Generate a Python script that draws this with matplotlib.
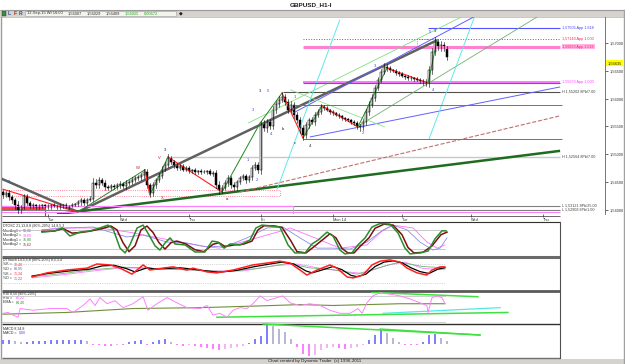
import matplotlib
matplotlib.use('Agg')
import matplotlib.pyplot as plt
from matplotlib.patches import Rectangle
from matplotlib.ticker import FuncFormatter
import matplotlib.transforms as mtrans

plt.rcParams['font.family'] = ['Liberation Sans', 'DejaVu Sans']

W, H = 625, 364

# ---- GBPUSD H1 bars ----
firstOpen = 1.5432
closes = [1.5427, 1.5431, 1.5423, 1.5418, 1.5409, 1.5400, 1.5405, 1.5425, 1.5413, 1.5407,
          1.5409, 1.5405, 1.5407, 1.5409, 1.5407, 1.5405, 1.5409, 1.5407, 1.5405, 1.5407,
          1.5409, 1.5405, 1.5407, 1.5409, 1.5411, 1.5414, 1.5418, 1.5413, 1.5418, 1.5420,
          1.5449, 1.5445, 1.5454, 1.5449, 1.5441, 1.5440, 1.5443, 1.5441, 1.5445, 1.5447,
          1.5443, 1.5449, 1.5450, 1.5454, 1.5457, 1.5459, 1.5463, 1.5468, 1.5445, 1.5431,
          1.5445, 1.5454, 1.5461, 1.5472, 1.5481, 1.5493, 1.5486, 1.5481, 1.5475, 1.5479,
          1.5472, 1.5475, 1.5470, 1.5472, 1.5468, 1.5470, 1.5468, 1.5468, 1.5470, 1.5465,
          1.5466, 1.5445, 1.5436, 1.5440, 1.5449, 1.5457, 1.5445, 1.5441, 1.5450, 1.5457,
          1.5461, 1.5454, 1.5459, 1.5475, 1.5481, 1.5472, 1.5554, 1.5547, 1.5558, 1.5551,
          1.5580, 1.5590, 1.5598, 1.5603, 1.5594, 1.5580, 1.5589, 1.5571, 1.5562, 1.5547,
          1.5535, 1.5553, 1.5562, 1.5558, 1.5571, 1.5576, 1.5585, 1.5583, 1.5580, 1.5576,
          1.5574, 1.5571, 1.5569, 1.5565, 1.5563, 1.5562, 1.5558, 1.5556, 1.5551, 1.5549,
          1.5558, 1.5576, 1.5589, 1.5601, 1.5619, 1.5634, 1.5648, 1.5657, 1.5655, 1.5651,
          1.5650, 1.5646, 1.5644, 1.5641, 1.5639, 1.5637, 1.5637, 1.5635, 1.5634, 1.5632,
          1.5630, 1.5628, 1.5651, 1.5684, 1.5702, 1.5693, 1.5696, 1.5691, 1.5675]
# wick lengths in pips above / below the body
wickUp = [4, 3, 5, 3, 4, 6, 3, 4, 3, 2, 3, 2, 3, 2, 2, 3, 2, 3, 2, 3,
          2, 3, 2, 3, 2, 4, 3, 3, 4, 5, 8, 6, 5, 4, 4, 3, 4, 3, 3, 4,
          3, 4, 4, 5, 4, 3, 4, 6, 5, 4, 5, 4, 5, 6, 5, 8, 4, 3, 4, 3,
          3, 4, 3, 2, 3, 2, 3, 3, 2, 3, 4, 5, 6, 5, 5, 6, 4, 5, 4, 4,
          3, 4, 4, 6, 5, 5, 6, 8, 6, 5, 6, 5, 6, 8, 6, 5, 6, 5, 4, 5,
          6, 5, 4, 5, 4, 6, 5, 3, 3, 2, 3, 2, 3, 2, 2, 3, 2, 3, 3, 4,
          5, 6, 6, 7, 6, 5, 6, 7, 5, 4, 3, 4, 3, 3, 2, 3, 3, 2, 3, 3,
          4, 5, 8, 7, 9, 6, 7, 5, 4]
wickDn = [5, 4, 6, 5, 7, 8, 5, 4, 4, 3, 3, 4, 3, 3, 2, 3, 3, 2, 3, 3,
          3, 2, 3, 2, 3, 4, 5, 4, 4, 3, 4, 5, 6, 5, 6, 4, 5, 4, 3, 5,
          4, 5, 4, 3, 4, 4, 5, 5, 6, 8, 6, 5, 4, 4, 3, 4, 4, 5, 4, 3,
          3, 3, 4, 3, 3, 4, 3, 2, 3, 3, 4, 6, 8, 6, 5, 6, 6, 5, 5, 4,
          4, 5, 4, 5, 4, 6, 8, 6, 7, 6, 5, 6, 5, 4, 5, 6, 5, 6, 6, 8,
          10, 6, 5, 4, 5, 4, 4, 3, 3, 3, 3, 3, 3, 3, 3, 3, 4, 4, 5, 8,
          6, 5, 5, 4, 5, 4, 4, 4, 5, 4, 3, 3, 3, 3, 4, 3, 3, 3, 3, 4,
          5, 6, 8, 6, 5, 5, 7, 6, 5]
lastPrice = 1.56635

dayTicks = [15, 39, 62, 86, 110, 133, 156, 180]
dayLabels = ['Tue', 'Wed', 'Thu', 'Fri', 'Mon 14', 'Tue', 'Wed', 'Thu']
priceTicks = [1.540, 1.545, 1.550, 1.555, 1.560, 1.565, 1.570]

# horizontal levels with their tags
levelPrices = [1.5727, 1.5707, 1.5693, 1.5630, 1.5612, 1.5495, 1.5407, 1.5400]
levelStart = [141.7, 100, 100, 100, 93.3, 55, -1, -1]
levelLabels = ['1,57505 App 1.618', '1,57140 App 1.000', '1,56890 App 1.618', '1,55573 App 1.000',
               'H 1,55202 8Pb/7.00', 'H 1,52564 8Pb/7.00', 'L 1,53121 8Pb/25.00', 'L 1,52908 8Pb/1.00']
levelColors = ['#5050ff', '#ff2050', '#ff80d0', '#ff60ff', '#505050', '#c8c8c8', '#808080', '#808080']
levelText = ['#4040ff', '#ff2050', '#ff2050', '#ff40ff', '#404040', '#404040', '#404040', '#404040']
levelBack = ['none', 'none', '#ffb4e6', 'none', 'none', 'none', 'none', 'none']
levelWidth = [0.8, 0.7, 2.2, 1.2, 0.8, 1.0, 0.8, 0.8]
levelStyle = ['-', ':', '-', '-', '-', '-', '-', '-']

# trend lines (bar, price)
trendLines = [
    ([-1, 25, 144.7], [1.5457, 1.5396, 1.5705], '#606060', 1.8, '-'),
    ([18, 185.7], [1.5392, 1.5506], '#1f6b1f', 1.8, '-'),
    ([79, 185.7], [1.5432, 1.5569], '#c07070', 0.8, '--'),
    ([102.3, 185.7], [1.5531, 1.5621], '#6060ff', 0.7, '-'),
    ([96.7, 158], [1.5574, 1.5750], '#6060ff', 0.7, '-'),
    ([81.7, 154], [1.5556, 1.5750], '#80e080', 0.6, '-'),
    ([117.3, 179], [1.5547, 1.5750], '#70b070', 0.6, '-'),
    ([95.7, 127.3], [1.5616, 1.5549], '#90e090', 0.6, '-'),
    ([91.3, 112.3], [1.5436, 1.5742], '#60e8e8', 0.7, '-'),
    ([142, 157.3], [1.5527, 1.5749], '#60e8e8', 0.7, '-'),
    ([96.7, 186.3], [1.5589, 1.5589], '#6060ff', 0.7, '-'),
    ([100, 186.3], [1.5527, 1.5527], '#6060ff', 0.7, '-'),
    ([100, 185.7], [1.5628, 1.5628], '#8040ff', 0.8, '-'),
    ([-1, 185.7], [1.5396, 1.5396], '#ff80ff', 0.8, '-'),
    ([-1, 96.7, 96.7], [1.5407, 1.5407, 1.5393], '#ff80ff', 0.8, '-'),
]
zigRed = [([0, 24.7], [1.5437, 1.5396]), ([47.3, 49], [1.5472, 1.5427]),
          ([55, 73], [1.5495, 1.5432]), ([93, 100], [1.5610, 1.5529]),
          ([106.3, 118.3], [1.5587, 1.5549]), ([128, 141.7], [1.5655, 1.5628])]
zigGreen = [([25, 47.3], [1.5396, 1.5472]), ([49, 55], [1.5427, 1.5495]),
            ([73, 85.7], [1.5432, 1.5556]), ([85.7, 93], [1.5556, 1.5610]),
            ([100, 106.3], [1.5529, 1.5587]), ([118.3, 128], [1.5549, 1.5655]),
            ([141.7, 144.7], [1.5628, 1.5705])]

waveX = [2, 45, 52, 54, 53, 74.7, 81.7, 84.7, 83.3, 89.3, 85.7, 88.3, 93.3, 97.3,
         102.3, 97.3, 120, 124, 143.3, 142.3, 144]
waveY = [1.5451, 1.5475, 1.5493, 1.5508, 1.5421, 1.5419, 1.5490, 1.5454, 1.5580, 1.5536,
         1.5614, 1.5614, 1.5545, 1.5520, 1.5515, 1.5603, 1.5538, 1.5659, 1.5615, 1.5720, 1.5722]
waveText = ['a', 'W', 'V', '3', 'X', 'a', '1', '2', '3', '4', '3', '5', 'b', 'c',
            '4', '1', '2', '3', '4', '5', '3']
waveColor = ['#4040ff', '#c02020', '#c02020', '#202020', '#c02020', '#202020', '#4040ff',
             '#4040ff', '#4040ff', '#4040ff', '#202020', '#4040ff', '#202020', '#202020',
             '#202020', '#4040ff', '#4040ff', '#4040ff', '#4040ff', '#4040ff', '#202020']

# ---- DTOSC ----
oscBarsG = [13, 17.3, 19.7, 22.3, 25.7, 29, 32.3, 35, 36.7, 39, 40.7, 42.3, 44.7, 46.7, 48.3,
            50.7, 52.3, 54, 55.7, 57.3, 60.7, 64, 67.3, 69.7, 71.7, 73.7, 75.7, 79, 82.3, 84.3,
            86.3, 89.7, 92.3, 95, 97.3, 100.7, 103, 105, 108, 110, 112.3, 114, 116.3, 118.3,
            120.7, 123, 125.7, 129, 131.7, 134, 135.7, 139, 141.7, 144, 146.3, 147.7]
oscG = [73, 77, 86, 61, 73, 77, 86, 95, 83, 23, 8, 33, 86, 95, 70, 30, 17, 39, 55, 36,
        33, 11, 11, 45, 42, 23, 36, 33, 48, 86, 95, 92, 89, 33, 8, 8, 36, 48, 73, 61,
        17, 5, 8, 33, 55, 89, 100, 98, 70, 23, 5, 8, 14, 52, 77, 77]
oscBarsR = [13, 17, 20, 23, 26, 29, 33, 36, 38, 40, 42, 44, 46, 48, 50, 52, 54, 56, 58, 61,
            64, 67, 70, 72, 74, 77, 80, 83, 85, 87, 90, 93, 96, 98, 101, 104, 106, 109, 111,
            113, 115, 117, 119, 122, 124, 127, 130, 133, 135, 137, 140, 143, 146, 148]
oscR = [75, 76, 84, 70, 72, 76, 84, 92, 80, 40, 12, 30, 80, 92, 72, 40, 20, 40, 45, 36,
        18, 12, 35, 40, 28, 33, 35, 45, 80, 93, 93, 88, 45, 12, 8, 30, 45, 68, 55,
        22, 8, 8, 28, 55, 85, 98, 95, 65, 25, 8, 10, 30, 65, 73]
oscBarsB = [13, 21.3, 30, 35.7, 41.3, 46.7, 54.7, 61.3, 68, 74.7, 81.3, 88, 93.3, 99, 104.7,
            110, 115.7, 121.3, 125.7, 130, 134.7, 139, 143.3, 145.7, 148]
oscB = [80, 86, 89, 73, 58, 64, 42, 39, 27, 30, 55, 86, 89, 55, 23, 23, 20, 42, 73, 95,
        80, 42, 17, 23, 55]
oscBarsM = [13, 19, 32, 42, 52, 65.7, 72, 82, 94, 95.7, 104, 112.3, 121.3, 126.7, 130,
            136.7, 141.3, 144.7, 147.3]
oscM = [80, 86, 86, 73, 55, 30, 23, 48, 80, 86, 55, 23, 33, 80, 95, 86, 42, 23, 33]

# ---- DTStoch ----
stBarsR = [9.7, 14.7, 21.3, 28, 31.3, 35.7, 39, 43, 46.7, 49, 53.3, 56.7, 61.3, 63.3, 68,
           71.3, 76.7, 83.3, 88, 92.3, 95.7, 99, 101.3, 104.7, 109, 111.3, 114.7, 116.7,
           120, 123, 125.7, 129, 132.3, 134.7, 138, 141.3, 143, 145.7, 147.3]
stR = [39, 52, 61, 67, 80, 77, 67, 48, 77, 61, 67, 71, 61, 67, 55, 52, 61, 77, 83, 89,
       83, 61, 45, 61, 77, 67, 39, 36, 45, 77, 89, 93, 86, 67, 52, 45, 61, 71, 71]
stBarsK = [9.7, 15, 22, 29, 33, 37, 41, 44, 48, 51, 55, 59, 63, 68, 72, 78, 84, 89, 93, 97,
           101, 103, 106, 110, 113, 116, 118, 121, 124, 127, 130, 133, 136, 139, 142, 145, 147.3]
stK = [42, 50, 58, 64, 74, 76, 66, 55, 68, 64, 66, 68, 64, 58, 54, 60, 72, 80, 86, 80,
       58, 52, 60, 72, 62, 44, 40, 48, 72, 86, 90, 84, 68, 56, 50, 64, 68]
stBarsG = [9.7, 20, 30, 40, 46, 55, 65, 75, 85, 95, 102, 110, 118, 126, 132, 140, 147.3]
stG = [40, 50, 62, 70, 68, 64, 60, 56, 66, 82, 68, 62, 48, 70, 86, 72, 68]
stBarsM = [9.7, 20, 30, 40, 50, 60, 70, 80, 90, 98, 106, 114, 120, 128, 134, 140, 147.3]
stM = [36, 46, 58, 68, 66, 62, 58, 58, 74, 80, 66, 56, 50, 76, 86, 66, 62]

# ---- RSI ----
rsiBars = [0, 1.7, 3.3, 5, 5.7, 10, 15.7, 21.3, 23.3, 26.7, 29, 30.7, 32.3, 34.7, 37.3,
           40, 43.3, 46.7, 48.3, 51.3, 54.7, 58, 61.3, 65.7, 68, 70, 72.3, 74.7, 76.7, 79,
           81.3, 83.3, 85.7, 88, 91.3, 93.3, 95.7, 99, 102.3, 105.7, 109, 112.3, 115.7,
           118.3, 119.7, 121.3, 123.3, 125.7, 129, 132.3, 135.7, 139, 141.3, 141.7, 143,
           144.7, 146.3, 147.3]
rsi = [40, 42, 36, 31, 51, 47, 51, 51, 42, 58, 73, 58, 76, 62, 69, 53, 62, 78, 47, 62,
       76, 64, 53, 51, 58, 36, 40, 31, 47, 53, 51, 62, 80, 69, 76, 80, 64, 58, 62, 58,
       47, 40, 40, 51, 40, 64, 80, 87, 84, 80, 73, 64, 58, 42, 76, 80, 76, 62]
emaBars = [0, 21.3, 43.3, 65.7, 85.7, 99, 110, 121.3, 132.3, 143.3, 147.3]
ema = [38, 42, 51, 53, 57, 60, 58, 60, 62, 62, 62]

# ---- MACD histogram (every second bar) ----
macdHist = [4, 4, 3, 2, 2, 3, 3, 3, 4, 4, 4, 4, 4, 4, 3, -1, -1, -2, -2, -1, -1, 2, 3, 4,
            -1, 2, 4, 5, 2, -1, -2, -1, -2, -3, -4, -5, -6, -5, -4, -3, -2, 1, 5, 8, 21,
            18, 15, 12, 5, -3, -10, -12, -11, -6, -4, -3, -4, -5, -4, -3, -1, 4, 9, 14,
            11, 6, 2, -1, -1, -1, 2, 9, 10, 6, 3]

TXT = 2.6  # tiny legend font


def price_fmt(v, pos=None):
    return f'{v:.5f}'.replace('.', ',')


fig = plt.figure(figsize=(W / 100, H / 100), dpi=100)

# background / window chrome in pixel coordinates
bg = fig.add_axes([0, 0, 1, 1])
bg.set_xlim(0, W)
bg.set_ylim(H, 0)
bg.axis('off')


def rect(x0, y0, x1, y1, **kw):
    bg.add_patch(Rectangle((x0, y0), x1 - x0, y1 - y0, **kw))


def hline(y, x0, x1, **kw):
    bg.plot([x0, x1], [y, y], solid_capstyle='butt', **kw)


def legend_row(y, name, value, color, xv):
    bg.text(3, y, name, fontsize=TXT, va='center', color='#303030')
    bg.text(xv, y, value, fontsize=TXT, va='center', color=color)


rect(0, 0, W, H, facecolor='white', edgecolor='none')
rect(0, 9.5, W, 17, facecolor='#d6d3ce', edgecolor='none')
hline(9.5, 0, W, color='#9a9a9a', lw=0.8)
hline(17, 0, W, color='#b0b0b0', lw=0.5)
rect(0, 358.5, W, H, facecolor='#d6d3ce', edgecolor='none')
bg.text(311, 4.8, 'GBPUSD_H1-I', fontsize=4.6, ha='center', va='center', color='#202020',
        fontweight='bold')
rect(2, 11, 6, 15.5, facecolor='#3c8c3c', edgecolor='#204020', lw=0.3)
bg.text(8, 13.3, 'L', fontsize=3.6, va='center', color='#3050a0', fontweight='bold')
bg.text(13.5, 13.3, 'F', fontsize=3.6, va='center', color='#a03030', fontweight='bold')
bg.text(19, 13.3, 'R', fontsize=3.6, va='center', color='#3050a0', fontweight='bold')
rect(25, 10.8, 176, 16, facecolor='#f4f4ec', edgecolor='#a0a0a0', lw=0.4)
infoX = [27, 68, 87, 106, 125, 144]
infoTxt = ['12-Sep-15 Wf 16:00', '1,56007', '1,56029', '1,56409', '1,56025', '0,00672']
infoCol = ['#303030', '#303030', '#303030', '#303030', '#20a020', '#20a020']
for x, t, c in zip(infoX, infoTxt, infoCol):
    bg.text(x, 13.4, t, fontsize=2.9, va='center', color=c)
bg.text(181, 13.3, '\u25c6', fontsize=3.5, va='center', ha='center', color='#202020')

# frames of indicator panels
hline(216, 2, 560, color='#505050', lw=0.6)
hline(221.8, 2, 560, color='#303030', lw=0.8)
hline(257, 2, 560, color='#6a6a6a', lw=2.2)
hline(290.5, 2, 560, color='#5a5a5a', lw=2.0)
hline(324, 2, 560, color='#303030', lw=1.0)
hline(358, 2, 560, color='#707070', lw=1.0)
bg.plot([560, 560], [221.8, 358], color='#505050', lw=0.8)
bg.plot([1, 1], [17, 358], color='#9a9a9a', lw=1.0)
bg.plot([624, 624], [9.5, 364], color='#a0a0a0', lw=1.0)
bg.text(268, 361.3, 'Chart created by Dynamic Trader  (c) 1996-2011', fontsize=3.2,
        va='center', color='#202020')


def box(x0, y0, x1, y1):
    a = fig.add_axes([x0 / W, 1 - y1 / H, (x1 - x0) / W, (y1 - y0) / H])
    a.set_facecolor('none')
    return a


# ---- main price panel ----
ax = box(2, 17, 605, 214)
ax.set_xlim(-0.333, 200.67)
ax.set_ylim(1.53924, 1.57468)
for s in ['left', 'top', 'bottom']:
    ax.spines[s].set_visible(False)
ax.spines['right'].set_color('#606060')
ax.spines['right'].set_linewidth(0.6)
ax.yaxis.tick_right()
ax.set_yticks(priceTicks)
ax.yaxis.set_major_formatter(FuncFormatter(price_fmt))
ax.tick_params(axis='y', labelsize=2.8, length=2, width=0.5, pad=1.5, colors='#303030')
ax.set_xticks(dayTicks, dayLabels)
ax.tick_params(axis='x', labelsize=2.8, length=2.5, width=0.5, pad=0.6, colors='#303030')
for lbl in ax.get_xticklabels():
    lbl.set_ha('left')

# boxes behind candles
ax.add_patch(Rectangle((-1, 1.5425), 93.3, 0.0011, fill=False, edgecolor='#ff6080',
                       lw=0.6, ls=':'))
ax.add_patch(Rectangle((-1, 1.5400), 15, 0.0005, facecolor='#ff4040', edgecolor='none'))
ax.plot([14, 14], [1.5405, 1.5388], color='#ff2020', lw=0.8, clip_on=False)
ax.add_patch(Rectangle((138, 1.5691), 6.7, 0.0016, fill=False, edgecolor='#ff4040',
                       lw=0.6, ls=':'))

for lp, ls0, lc, lw, lst in zip(levelPrices, levelStart, levelColors, levelWidth, levelStyle):
    ax.plot([ls0, 185.7], [lp, lp], color=lc, lw=lw, ls=lst, solid_capstyle='butt')
for lp, lab, tc, bk in zip(levelPrices, levelLabels, levelText, levelBack):
    ax.text(186.5, lp, lab, fontsize=2.7, color=tc, va='center', ha='left',
            bbox=dict(facecolor=bk, edgecolor='none', pad=0.3))

for xs, ys, c, lw, st in trendLines:
    ax.plot(xs, ys, color=c, lw=lw, ls=st, solid_capstyle='butt')
for xs, ys in zigRed:
    ax.plot(xs, ys, color='#ff2020', lw=0.8)
for xs, ys in zigGreen:
    ax.plot(xs, ys, color='#208a20', lw=0.7)

# candles
opens = [firstOpen] + closes[:-1]
for i, (o, c, wu, wd) in enumerate(zip(opens, closes, wickUp, wickDn)):
    top, bot = max(o, c), min(o, c)
    ax.plot([i, i], [bot - wd * 0.0001, top + wu * 0.0001], color='black', lw=0.4)
    fc = 'white' if c > o else 'black'
    ax.bar(i, max(top - bot, 0.00004), bottom=bot, width=0.7, color=fc,
           edgecolor='black', linewidth=0.35)

for x, y, t, c in zip(waveX, waveY, waveText, waveColor):
    ax.text(x, y, t, fontsize=3.0, color=c, ha='center', va='center')

lastTrans = mtrans.blended_transform_factory(ax.transAxes, ax.transData)
ax.text(1.004, lastPrice, price_fmt(lastPrice), transform=lastTrans, fontsize=2.8,
        va='center', ha='left', color='#202020',
        bbox=dict(facecolor='#ffff00', edgecolor='none', pad=0.8))


def panel(y0, y1, ylo, yhi):
    a = box(2, y0, 560, y1)
    a.set_xlim(-0.333, 185.67)
    a.set_ylim(ylo, yhi)
    a.axis('off')
    return a


# ---- DTOSC ----
a1 = panel(222, 256, -1.6, 104.7)
for lvl in [80, 20]:
    a1.plot([-0.3, 147.5], [lvl, lvl], color='#b4b4b4', lw=0.5)
a1.plot(oscBarsM, oscM, color='#ff70ff', lw=0.6)
a1.plot(oscBarsB, oscB, color='#8c8ce6', lw=0.6)
a1.plot(oscBarsR, oscR, color='#7a1010', lw=1.1)
a1.plot(oscBarsG, oscG, color='#2a8c2a', lw=1.1)

bg.text(3, 225.8, 'DTOSC 21,13,8,8 (80%-20%) 14,8,5,3', fontsize=TXT, va='center', color='#303030')
oscNames = ['MovAvg1 =', 'MovAvg2 =', 'MovAvg1 =', 'MovAvg2 =']
oscVals = ['58,86', '33,69', '76,80', '75,62']
oscCols = ['#4040ff', '#ff40ff', '#209020', '#a02020']
for k, (n, v, c) in enumerate(zip(oscNames, oscVals, oscCols)):
    legend_row(230.6 + 4.6 * k, n, v, c, 23)

# ---- DTStoch ----
a2 = panel(258, 290, -2.2, 99)
for lvl in [80, 20]:
    a2.plot([-0.3, 147.5], [lvl, lvl], color='#b4b4b4', lw=0.5, ls=':')
a2.plot(stBarsM, stM, color='#ff80ff', lw=0.6)
a2.plot(stBarsG, stG, color='#70b870', lw=0.6)
a2.plot(stBarsK, stK, color='black', lw=0.9)
a2.plot(stBarsR, stR, color='#ff2020', lw=1.1)

bg.text(3, 259.8, 'DTStoch 14,5,5,8 (80%-20%) 8,5,3,4', fontsize=TXT, va='center', color='#303030')
stNames = ['%K =', '%D =', '%K =', '%D =']
stVals = ['70,48', '68,95', '71,34', '71,22']
stCols = ['#ff2020', '#5060c0', '#ff2020', '#5060c0']
for k, (n, v, c) in enumerate(zip(stNames, stVals, stCols)):
    legend_row(264.3 + 4.7 * k, n, v, c, 14)

# ---- RSI ----
a3 = panel(292, 323, 17.8, 88.9)
for lvl in [80, 20.5]:
    a3.plot([-0.3, 147.5], [lvl, lvl], color='#c8c8c8', lw=0.6)
a3.plot([123, 158.3], [88, 78], color='#40e040', lw=1.1)
a3.plot([71.3, 168.3], [31, 42], color='#40e040', lw=1.1)
a3.plot([126.7, 165.7], [40, 53], color='#50e8e8', lw=0.9)
a3.plot(emaBars, ema, color='#6f8f3a', lw=0.8)
a3.plot(rsiBars, rsi, color='#ff80ff', lw=0.7)

bg.text(3, 293.5, 'RSI 8,50 (80%-20%)', fontsize=TXT, va='center', color='#303030')
legend_row(297.8, 'RSI =', '60,22', '#ff40ff', 15.5)
legend_row(302.1, 'EMA =', '64,40', '#309030', 15.5)

# ---- MACD ----
a4 = panel(325, 358, -14, 19)
macdBars = list(range(0, 2 * len(macdHist), 2))
macdCols = []
for k, v in enumerate(macdHist):
    prev = macdHist[k - 1] if k > 0 else v
    if v >= 0:
        macdCols.append('#8080ff' if v >= prev else '#b8b8d4')
    else:
        macdCols.append('#ff80ff' if v <= prev else '#f0b8f0')
a4.bar(macdBars, macdHist, width=0.45, color=macdCols)
a4.plot([86.7, 159], [20, 9], color='#40e040', lw=1.1, clip_on=False)
a4.plot([125.7, 159], [15, 9], color='#40e040', lw=1.0)

bg.text(3, 328.3, 'MACD 8,34,8', fontsize=TXT, va='center', color='#303030')
legend_row(332.6, 'MACD =', '0,00', '#4040ff', 18.5)

fig.savefig('out.png', dpi=100)
